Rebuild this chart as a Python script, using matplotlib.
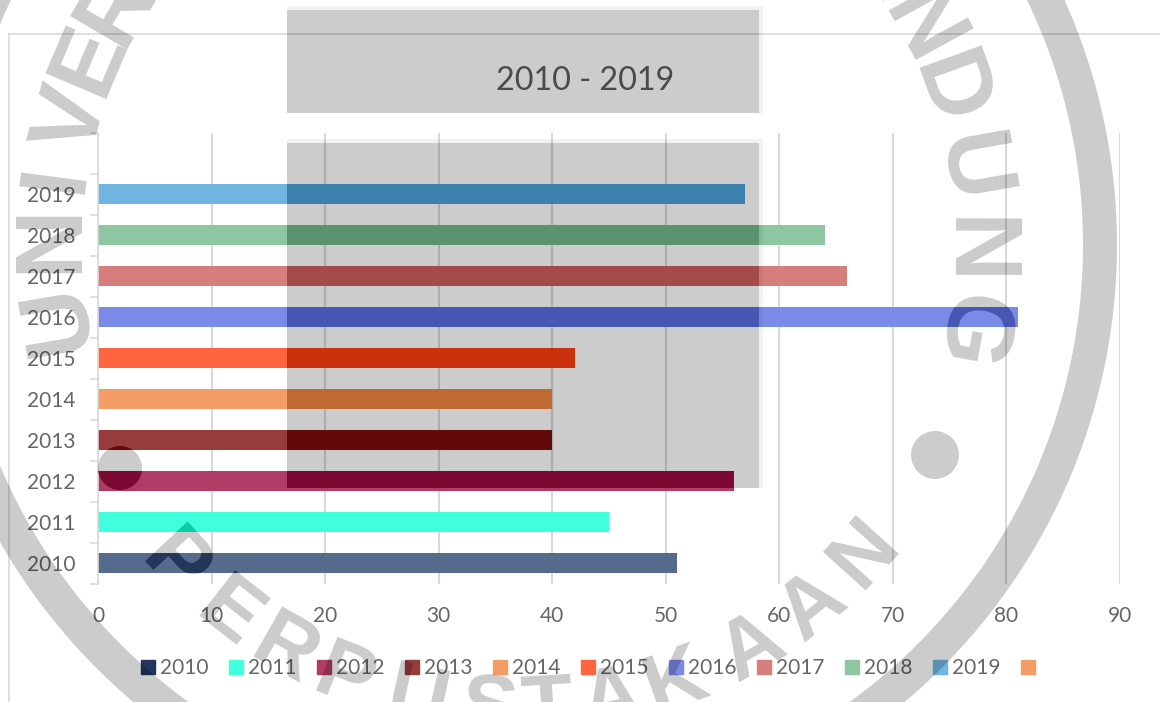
"""
Jumlah per tahun 2010 - 2019, horizontal bars under a library stamp watermark.
"""

import numpy as np
import matplotlib
matplotlib.use('Agg')
import matplotlib.pyplot as plt
from matplotlib.font_manager import FontProperties
from matplotlib.patches import Patch, PathPatch
from matplotlib.path import Path
from matplotlib.textpath import TextPath
from matplotlib.transforms import Affine2D, IdentityTransform
from matplotlib.lines import Line2D
from matplotlib.colors import to_rgb

WIDTH, HEIGHT = 1160, 702

years = ['2010', '2011', '2012', '2013', '2014', '2015', '2016', '2017', '2018', '2019']
values = [51, 45, 56, 40, 40, 42, 81, 66, 64, 57]
colors = ['#566A8C', '#40FFDC', '#AF3C64', '#963C3C', '#F39C64',
          '#FF6441', '#7A8AE6', '#D67E7E', '#8EC6A2', '#70B5E2']
legend_colors = ['#22355E'] + colors[1:] + ['#F39C64']
x_ticks = list(range(0, 100, 10))
title = '2010 - 2019'

# watermark letters: (text, clock angle in degrees)
stamp_top = list(zip('UNIVERS', [-99.8, -90, -82.5, -74.5, -67, -59.5, -52])) + \
    list(zip('ANDUNG', [52, 61.3, 70, 80, 90.2, 100.3]))
stamp_bottom = list(zip('PERPUSTAKAAN', [-47, -38, -29.7, -21.7, -12.5, -3.6, 3.5, 11.5, 20, 30, 39, 48]))

plt.rcParams['font.family'] = ['Lato', 'DejaVu Sans']
TEXT = '#666666'
LINE = '#D9D9D9'


def darker(color, amount=51):
    # the stamp burns into the page: subtract instead of multiply
    return tuple(max(c - amount / 255, 0) for c in to_rgb(color))


def up(y):
    return HEIGHT - y


def letter_path(char, x, y, rot, font, size):
    tp = TextPath((0, 0), char, size=size, prop=font)
    box = tp.get_extents()
    tr = Affine2D().translate(-(box.x0 + box.x1) / 2, -(box.y0 + box.y1) / 2).rotate_deg(rot).translate(x, y)
    return tr.transform_path(tp)


def box_path(x0, y0, x1, y1, flip=False):
    pts = [(x0, up(y0)), (x1, up(y0)), (x1, up(y1)), (x0, up(y1))]
    if flip:
        pts = pts[::-1]
    return Path(pts + pts[:1], closed=True)


def build_stamp():
    cx, cy = 519, up(245)
    font = FontProperties(family='Liberation Sans', weight='bold')
    t = np.linspace(0, 2 * np.pi, 361)
    ring = []
    for radius, step in [(598, 1), (564, -1)]:
        ring.append(Path(np.column_stack([cx + radius * np.cos(t[::step]), cy + radius * np.sin(t[::step])]), closed=True))
    parts = ring
    for char, a in stamp_top:
        r = np.radians(a)
        parts.append(letter_path(char, cx + 470 * np.sin(r), cy + 470 * np.cos(r), -a, font, 96))
    for char, a in stamp_bottom:
        r = np.radians(a)
        parts.append(letter_path(char, cx + 460 * np.sin(r), cy - 460 * np.cos(r), a, font, 84))
    # the two dots
    parts.append(Path.circle((935, up(455)), 24))
    parts.append(Path.circle((120, up(468)), 22))
    # grey blocks over the title and the plot
    parts.append(box_path(287, 10, 759, 113))
    parts.append(box_path(287, 143, 759, 488))
    return Path.make_compound_path(*parts)


def swatches(ax, face, zorder):
    handles = [Patch(color=c) for c in face]
    leg = ax.legend(handles, years + [''], ncols=11, loc='center left',
                    bbox_to_anchor=(141, up(668)), bbox_transform=IdentityTransform(),
                    frameon=False, fontsize=15, labelcolor=TEXT, borderpad=0, borderaxespad=0,
                    handlelength=0.67, handleheight=0.67, handletextpad=0.25,
                    columnspacing=0.977)
    leg.set_zorder(zorder)
    ax.add_artist(leg)
    return leg


fig = plt.figure(figsize=(WIDTH / 100, HEIGHT / 100), dpi=100, facecolor='white')
ax = fig.add_axes([98 / WIDTH, up(583.5) / HEIGHT, (1120 - 98) / WIDTH, 451 / HEIGHT])

# 11 slots: the top one is an empty category in the source chart
positions = list(range(len(years)))
ax.barh(positions, values, height=0.51, color=colors, zorder=2)
ax.set_xlim(0, 90)
ax.set_ylim(-0.5, 10.5)
ax.set_xticks(x_ticks)
ax.set_yticks([p - 0.5 for p in range(12)], minor=True)
ax.set_yticks(positions)
ax.set_yticklabels(years)
ax.grid(axis='x', color=LINE, linewidth=1.5, zorder=1)
ax.set_axisbelow(True)
ax.tick_params(axis='x', length=0, labelsize=15, labelcolor=TEXT, pad=16.5)
ax.tick_params(axis='y', which='major', length=0, labelsize=15, labelcolor=TEXT, pad=16.5)
ax.tick_params(axis='y', which='minor', length=6, width=1.2, color=LINE)
for name in ['top', 'right', 'bottom']:
    ax.spines[name].set_visible(False)
ax.spines['left'].set_color(LINE)
ax.spines['left'].set_linewidth(1.2)

# chart frame
for xs, ys in [((9, WIDTH), (34, 34)), ((9, 9), (34, HEIGHT))]:
    frame = Line2D(xs, [up(y) for y in ys], color=LINE, linewidth=1.2,
                   transform=IdentityTransform(), zorder=1)
    frame.set_clip_on(False)
    ax.add_line(frame)

swatches(ax, legend_colors, 3)

# pale fringe on the top and right of the grey blocks
for x0, y0, x1, y1 in [(287, 10, 759, 113), (287, 143, 759, 488)]:
    rim = Path.make_compound_path(box_path(x0, y0 - 4, x1 + 4, y1), box_path(x0, y0, x1, y1, flip=True))
    fringe = PathPatch(rim, facecolor='black', edgecolor='none', alpha=0.05,
                       transform=IdentityTransform(), zorder=3.5)
    ax.add_artist(fringe)
    fringe.set_clip_on(False)

stamp = PathPatch(build_stamp(), facecolor='black', edgecolor='none', alpha=0.2,
                  transform=IdentityTransform(), zorder=4)
ax.add_artist(stamp)
stamp.set_clip_on(False)

# same bars again, burnt, only where the stamp lies
burnt = ax.barh(positions, values, height=0.51, color=[darker(c) for c in colors], zorder=4.5)
for bar in burnt:
    bar.set_clip_path(stamp)

burnt_leg = swatches(ax, [darker(c) for c in legend_colors], 4.5)
for txt in burnt_leg.get_texts():
    txt.set_alpha(0)
for patch in burnt_leg.get_patches():
    patch.set_clip_path(stamp)

ax.text(585.5, up(81), title, fontsize=23.3, color='#4A4A4A', ha='center', va='center',
        transform=IdentityTransform(), zorder=5)

fig.savefig('out.png', dpi=100)
plt.close(fig)
